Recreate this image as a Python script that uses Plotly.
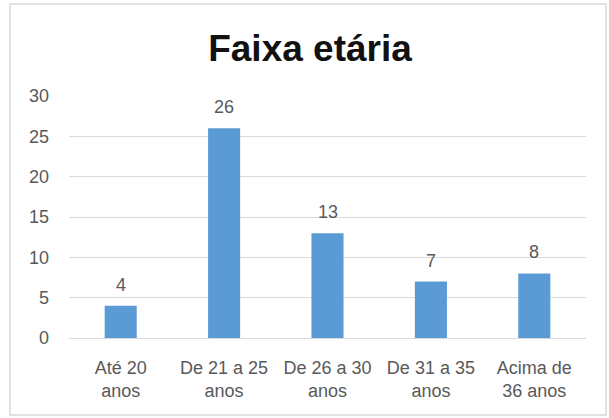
import plotly.graph_objects as go

categories = ["Até 20<br>anos", "De 21 a 25<br>anos", "De 26 a 30<br>anos", "De 31 a 35<br>anos", "Acima de<br>36 anos"]
values = [4, 26, 13, 7, 8]
y_ticks = [0, 5, 10, 15, 20, 25, 30]
title_text = "Faixa etária"

W, H = 609, 418
L, R, T, B = 69, 23, 96, 80
pw, ph = W - L - R, H - T - B

fig = go.Figure()
fig.add_trace(go.Bar(x=categories, y=values, marker=dict(color="#5B9BD5", line=dict(width=0)),
                     width=0.31, hoverinfo="skip"))

annotations = []
for c, v in zip(categories, values):
    annotations.append(dict(x=c, y=v, xref="x", yref="y", text=str(v), showarrow=False,
                            yanchor="bottom", yshift=9,
                            font=dict(family="Liberation Sans, Arial", size=18, color="#595959")))

def px2paper_x(px):
    return (px - L) / pw

def px2paper_y(py):
    return (H - B - py) / ph

fig.update_layout(
    width=W, height=H,
    margin=dict(l=L, r=R, t=T, b=B),
    paper_bgcolor="white", plot_bgcolor="white",
    showlegend=False,
    title=dict(text="<b>" + title_text + "</b>", x=310 / W, xanchor="center", y=1 - 48 / H, yanchor="middle",
               font=dict(family="Liberation Sans, Arial", size=37, color="#111111")),
    xaxis=dict(showgrid=False, showline=False, zeroline=False, ticks="", ticklabelstandoff=17,
               tickfont=dict(family="Liberation Sans, Arial", size=18, color="#595959")),
    yaxis=dict(range=[0, 30], tickvals=y_ticks, showgrid=True, gridcolor="#D9D9D9", gridwidth=1,
               zeroline=True, zerolinecolor="#D9D9D9", zerolinewidth=1, showline=False,
               ticks="", ticklabelstandoff=19,
               tickfont=dict(family="Liberation Sans, Arial", size=18, color="#595959")),
    annotations=annotations,
    shapes=[dict(type="rect", xref="paper", yref="paper",
                 x0=px2paper_x(10), x1=px2paper_x(606), y0=px2paper_y(415), y1=px2paper_y(4),
                 line=dict(color="#D9D9D9", width=1.5), fillcolor="rgba(0,0,0,0)", layer="below")],
)

fig.write_html("out.html")
